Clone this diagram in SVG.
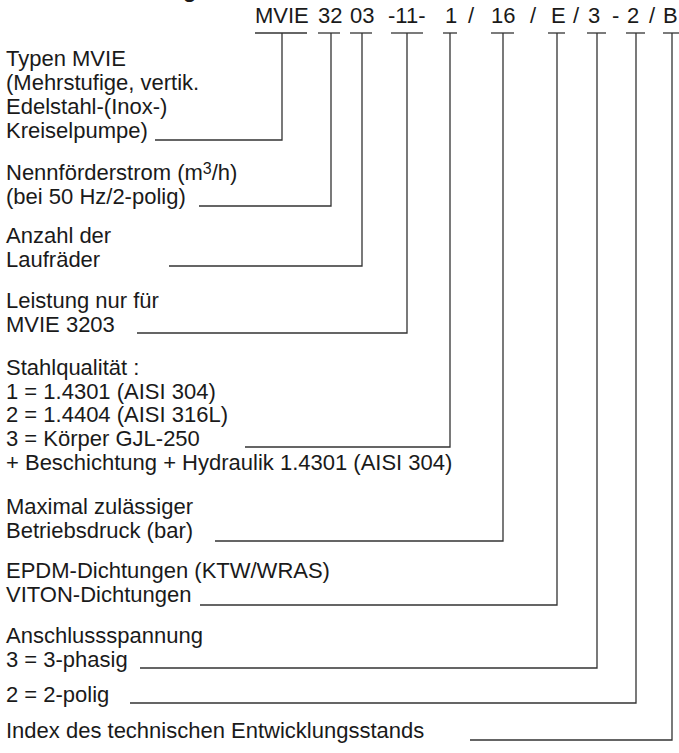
<svg xmlns="http://www.w3.org/2000/svg" width="679" height="753" viewBox="0 0 679 753">
<style>
text{font-family:"Liberation Sans",Arial,sans-serif;font-size:22px;fill:#1a1a1a}
.h{font-weight:bold;font-size:22px}
.c line,.c polyline{stroke:#333;stroke-width:1.3;fill:none}
</style>
<rect width="679" height="753" fill="#fff"/>
<text class="h" x="183" y="-3">g</text>
<g id="code">
<text y="23"><tspan x="255">MVIE</tspan><tspan x="318">32</tspan><tspan x="350">03</tspan><tspan x="388">-11-</tspan><tspan x="445">1</tspan><tspan x="468">/</tspan><tspan x="491">16</tspan><tspan x="530">/</tspan><tspan x="551">E</tspan><tspan x="573">/</tspan><tspan x="588">3</tspan><tspan x="612">-</tspan><tspan x="627">2</tspan><tspan x="649">/</tspan><tspan x="663">B</tspan></text>
</g>
<g id="n1"><text x="6" y="66">Typen MVIE</text><text x="6" y="90">(Mehrstufige, vertik.</text><text x="6" y="114">Edelstahl-(Inox-)</text><text x="6" y="138">Kreiselpumpe)</text></g>
<g id="n2"><text x="6" y="180">Nennförderstrom (m<tspan font-size="16" dy="-6">3</tspan><tspan dy="6">/h)</tspan></text><text x="6" y="204">(bei 50 Hz/2-polig)</text></g>
<g id="n3"><text x="6" y="243">Anzahl der</text><text x="6" y="267">Laufräder</text></g>
<g id="n4"><text x="6" y="308">Leistung nur für</text><text x="6" y="332">MVIE 3203</text></g>
<g id="n5"><text x="6" y="375">Stahlqualität :</text><text x="6" y="399">1 = 1.4301 (AISI 304)</text><text x="6" y="422">2 = 1.4404 (AISI 316L)</text><text x="6" y="446">3 = Körper GJL-250</text><text x="6" y="470">+ Beschichtung + Hydraulik 1.4301 (AISI 304)</text></g>
<g id="n6"><text x="6" y="514">Maximal zulässiger</text><text x="6" y="538">Betriebsdruck (bar)</text></g>
<g id="n7"><text x="6" y="578">EPDM-Dichtungen (KTW/WRAS)</text><text x="6" y="602">VITON-Dichtungen</text></g>
<g id="n8"><text x="6" y="643">Anschlussspannung</text><text x="6" y="667">3 = 3-phasig</text></g>
<g id="n9"><text x="6" y="702">2 = 2-polig</text></g>
<g id="n10"><text x="6" y="738">Index des technischen Entwicklungsstands</text></g>
<g id="connectors" class="c">
<line x1="255" y1="33" x2="307" y2="33"/><polyline points="282,33 282,140 155,140"/>
<line x1="318" y1="33" x2="340" y2="33"/><polyline points="331,33 331,206 199,206"/>
<line x1="350" y1="33" x2="372" y2="33"/><polyline points="362,33 362,266 169,266"/>
<line x1="391" y1="33" x2="423" y2="33"/><polyline points="407,33 407,333 137,333"/>
<line x1="443" y1="33" x2="457" y2="33"/><polyline points="450,33 450,447 245,447"/>
<line x1="491" y1="33" x2="514" y2="33"/><polyline points="503,33 503,541 215,541"/>
<line x1="548" y1="33" x2="565" y2="33"/><polyline points="557,33 557,605 200,605"/>
<line x1="587" y1="33" x2="606" y2="33"/><polyline points="597,33 597,668 140,668"/>
<line x1="626" y1="33" x2="645" y2="33"/><polyline points="636,33 636,703 130,703"/>
<line x1="663" y1="33" x2="680" y2="33"/><polyline points="672,33 672,740 470,740"/>
</g>
</svg>
